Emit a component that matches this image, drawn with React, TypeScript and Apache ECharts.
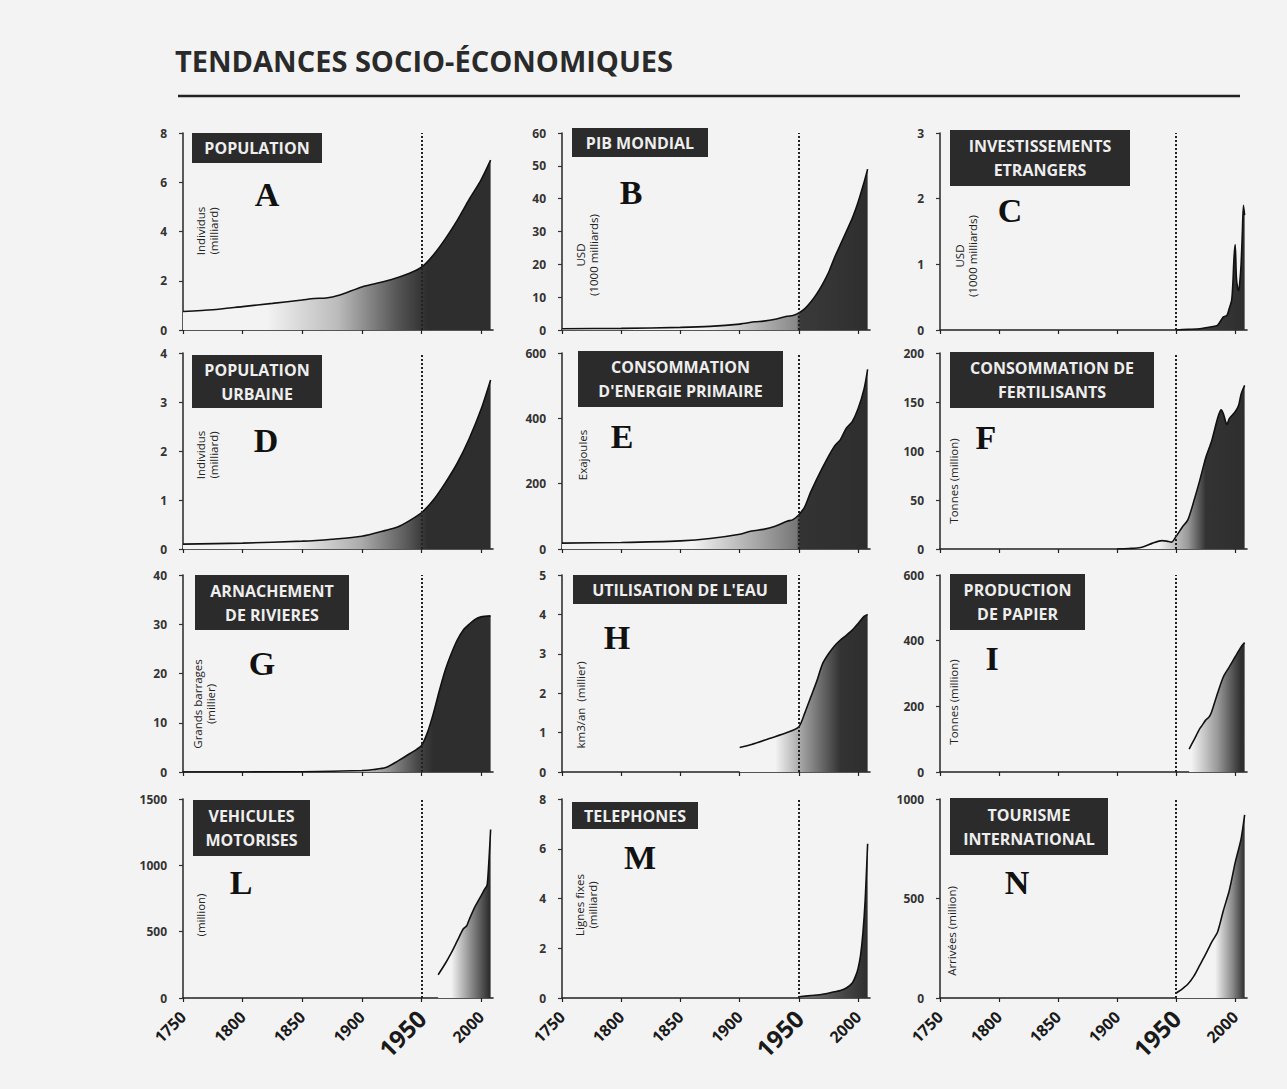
import React, { useEffect, useRef } from "react";
import * as echarts from "echarts";

// ---- Data (year, value) ----
const populationA: [number, number][] = [
  [1750, 0.75], [1775, 0.82], [1800, 0.95], [1825, 1.08], [1850, 1.22], [1860, 1.28], [1870, 1.3],
  [1880, 1.4], [1900, 1.75], [1910, 1.87], [1925, 2.05], [1940, 2.3], [1950, 2.55], [1960, 3.05],
  [1970, 3.7], [1980, 4.45], [1990, 5.3], [2000, 6.1], [2008, 6.9],
];
const pibB: [number, number][] = [
  [1750, 0.4], [1800, 0.5], [1850, 0.8], [1875, 1.1], [1900, 1.8], [1913, 2.5], [1920, 2.7],
  [1930, 3.3], [1940, 4.2], [1945, 4.4], [1950, 5.2], [1955, 6.5], [1960, 8.5], [1965, 11],
  [1970, 14], [1975, 17.5], [1980, 22], [1985, 26], [1990, 30], [1995, 34], [2000, 39],
  [2005, 45], [2008, 49],
];
const investC: [number, number][] = [
  [1950, 0], [1960, 0.01], [1970, 0.02], [1980, 0.05], [1985, 0.07], [1990, 0.2], [1993, 0.22],
  [1995, 0.33], [1997, 0.45], [1998, 0.7], [1999, 1.1], [2000, 1.3], [2001, 0.8], [2002, 0.65],
  [2003, 0.6], [2004, 0.75], [2005, 1.0], [2006, 1.45], [2007, 1.9], [2008, 1.75],
];
const urbainD: [number, number][] = [
  [1750, 0.1], [1800, 0.12], [1850, 0.16], [1875, 0.2], [1900, 0.26], [1920, 0.38], [1930, 0.45],
  [1940, 0.58], [1950, 0.74], [1960, 1.0], [1970, 1.35], [1980, 1.75], [1990, 2.25], [2000, 2.85],
  [2008, 3.45],
];
const energieE: [number, number][] = [
  [1750, 18], [1800, 20], [1850, 25], [1875, 32], [1900, 45], [1910, 55], [1920, 60], [1930, 70],
  [1940, 85], [1945, 90], [1950, 105], [1955, 130], [1960, 175], [1970, 250], [1980, 315],
  [1985, 335], [1990, 370], [1995, 390], [2000, 430], [2005, 490], [2008, 550],
];
const fertilF: [number, number][] = [
  [1900, 0], [1910, 0.5], [1920, 1.5], [1930, 6], [1938, 8.5], [1942, 8], [1946, 7], [1950, 13],
  [1955, 22], [1960, 30], [1965, 49], [1970, 70], [1975, 93], [1980, 110], [1985, 133],
  [1988, 142], [1990, 138], [1993, 127], [1995, 133], [2000, 140], [2003, 147], [2005, 158],
  [2008, 167],
];
const barragesG: [number, number][] = [
  [1750, 0], [1850, 0.05], [1900, 0.3], [1910, 0.5], [1920, 0.9], [1930, 2.2], [1940, 3.7],
  [1950, 5.4], [1955, 8], [1960, 11.9], [1965, 16.5], [1970, 20.7], [1975, 24], [1980, 26.8],
  [1985, 28.8], [1990, 30], [1995, 31], [2000, 31.5], [2008, 31.7],
];
const eauH: [number, number][] = [
  [1900, 0.62], [1910, 0.7], [1925, 0.85], [1940, 1.0], [1950, 1.15], [1955, 1.5], [1960, 1.9],
  [1965, 2.3], [1970, 2.75], [1975, 3.0], [1980, 3.2], [1985, 3.35], [1990, 3.47], [1995, 3.6],
  [2000, 3.77], [2005, 3.95], [2008, 4.0],
];
const papierI: [number, number][] = [
  [1961, 70], [1965, 97], [1970, 132], [1972, 142], [1975, 158], [1978, 168], [1980, 183],
  [1985, 239], [1990, 290], [1995, 320], [2000, 351], [2005, 381], [2008, 394],
];
const vehiculesL: [number, number][] = [
  [1964, 175], [1970, 260], [1975, 340], [1980, 430], [1985, 520], [1988, 545], [1990, 590],
  [1995, 690], [2000, 770], [2003, 820], [2005, 850], [2006, 950], [2007, 1100], [2008, 1270],
];
const telephonesM: [number, number][] = [
  [1950, 0.05], [1960, 0.1], [1970, 0.15], [1980, 0.25], [1985, 0.3], [1990, 0.4], [1995, 0.6],
  [1998, 0.9], [2000, 1.2], [2002, 1.7], [2004, 2.6], [2006, 4.0], [2008, 6.2],
];
const tourismeN: [number, number][] = [
  [1950, 25], [1955, 45], [1960, 70], [1965, 110], [1970, 165], [1975, 220], [1980, 280],
  [1985, 330], [1990, 440], [1995, 540], [2000, 680], [2005, 800], [2008, 920],
];

const xTicks = [1750, 1800, 1850, 1900, 1950, 2000];

// ---- Layout / styling ----
const colLeft = [183, 562, 940];
const colWidth = [310, 308, 307];
const rowTop = [133, 353, 575, 799];
const rowHeight = [197, 196, 197, 199];

const DARK = "#2e2e2e";
type Panel = {
  data: [number, number][];
  row: number;
  col: number;
  yMax: number;
  yStep: number;
  title: string;
  box: [number, number, number, number];
  letter: string;
  letterPos: [number, number];
  unit: string;
  unitPos: [number, number];
  grad: [number, string][];
};

const panels: Panel[] = [
  { data: populationA, row: 0, col: 0, yMax: 8, yStep: 2, title: "POPULATION", box: [192, 133, 130, 30],
    letter: "A", letterPos: [267, 194], unit: "Individus\n(milliard)", unitPos: [207, 231],
    grad: [[1820, "#f3f3f3"], [1880, "#bbbbbb"], [1930, "#555555"], [1955, DARK]] },
  { data: pibB, row: 0, col: 1, yMax: 60, yStep: 10, title: "PIB MONDIAL", box: [572, 128, 136, 29],
    letter: "B", letterPos: [631, 192], unit: "USD\n(1000 milliards)", unitPos: [587, 255],
    grad: [[1870, "#f3f3f3"], [1948, "#888888"], [1951, "#3a3a3a"], [2008, DARK]] },
  { data: investC, row: 0, col: 2, yMax: 3, yStep: 1, title: "INVESTISSEMENTS\nETRANGERS", box: [950, 130, 180, 56],
    letter: "C", letterPos: [1010, 210], unit: "USD\n(1000 milliards)", unitPos: [966, 256],
    grad: [[1950, "#444444"], [2008, DARK]] },
  { data: urbainD, row: 1, col: 0, yMax: 4, yStep: 1, title: "POPULATION\nURBAINE", box: [192, 355, 130, 53],
    letter: "D", letterPos: [266, 440], unit: "Individus\n(milliard)", unitPos: [207, 455],
    grad: [[1840, "#f3f3f3"], [1900, "#aaaaaa"], [1940, "#555555"], [1955, DARK]] },
  { data: energieE, row: 1, col: 1, yMax: 600, yStep: 200, title: "CONSOMMATION\nD'ENERGIE PRIMAIRE", box: [578, 351, 205, 56],
    letter: "E", letterPos: [622, 436], unit: "Exajoules", unitPos: [582, 455],
    grad: [[1860, "#f3f3f3"], [1948, "#777777"], [1951, "#333333"], [2008, DARK]] },
  { data: fertilF, row: 1, col: 2, yMax: 200, yStep: 50, title: "CONSOMMATION DE\nFERTILISANTS", box: [950, 352, 204, 56],
    letter: "F", letterPos: [986, 437], unit: "Tonnes (million)", unitPos: [953, 481],
    grad: [[1935, "#f3f3f3"], [1960, "#999999"], [1975, "#333333"], [2008, DARK]] },
  { data: barragesG, row: 2, col: 0, yMax: 40, yStep: 10, title: "ARNACHEMENT\nDE RIVIERES", box: [195, 575, 154, 55],
    letter: "G", letterPos: [262, 663], unit: "Grands barrages\n(millier)", unitPos: [204, 704],
    grad: [[1880, "#f3f3f3"], [1920, "#999999"], [1948, "#444444"], [1960, DARK]] },
  { data: eauH, row: 2, col: 1, yMax: 5, yStep: 1, title: "UTILISATION DE L'EAU", box: [573, 575, 214, 29],
    letter: "H", letterPos: [617, 637], unit: "km3/an  (millier)", unitPos: [580, 705],
    grad: [[1930, "#f3f3f3"], [1955, "#999999"], [1985, "#333333"], [2008, DARK]] },
  { data: papierI, row: 2, col: 2, yMax: 600, yStep: 200, title: "PRODUCTION\nDE PAPIER", box: [950, 574, 135, 56],
    letter: "I", letterPos: [992, 658], unit: "Tonnes (million)", unitPos: [953, 702],
    grad: [[1963, "#f3f3f3"], [1985, "#999999"], [2005, DARK]] },
  { data: vehiculesL, row: 3, col: 0, yMax: 1500, yStep: 500, title: "VEHICULES\nMOTORISES", box: [193, 800, 117, 56],
    letter: "L", letterPos: [241, 882], unit: "(million)", unitPos: [200, 915],
    grad: [[1975, "#f3f3f3"], [1992, "#888888"], [2007, DARK]] },
  { data: telephonesM, row: 3, col: 1, yMax: 8, yStep: 2, title: "TELEPHONES", box: [572, 802, 126, 27],
    letter: "M", letterPos: [640, 857], unit: "Lignes fixes\n(milliard)", unitPos: [586, 905],
    grad: [[1950, "#777777"], [1990, "#444444"], [2008, DARK]] },
  { data: tourismeN, row: 3, col: 2, yMax: 1000, yStep: 500, title: "TOURISME\nINTERNATIONAL", box: [950, 798, 158, 57],
    letter: "N", letterPos: [1017, 882], unit: "Arrivées (million)", unitPos: [951, 931],
    grad: [[1983, "#f3f3f3"], [1998, "#888888"], [2008, DARK]] },
];

function gradientFor(p: Panel) {
  const x0 = p.data[0][0];
  const x1 = p.data[p.data.length - 1][0];
  const stops = p.grad.map(([yr, c]) => ({
    offset: Math.max(0, Math.min(1, (yr - x0) / (x1 - x0))),
    color: c,
  }));
  return new echarts.graphic.LinearGradient(0, 0, 1, 0, stops);
}

const FONT = "'Open Sans', 'DejaVu Sans', sans-serif";

export default function App() {
  const ref = useRef<HTMLDivElement>(null);
  useEffect(() => {
    if (!ref.current) return;
    const chart = echarts.init(ref.current, undefined, { renderer: "svg" });

    const grids = panels.map((p) => ({
      left: colLeft[p.col],
      top: rowTop[p.row],
      width: colWidth[p.col],
      height: rowHeight[p.row],
      containLabel: false,
    }));

    const xAxes = panels.map((p, i) => ({
      type: "value",
      gridIndex: i,
      min: 1750,
      max: 2010,
      axisLine: { show: true, lineStyle: { color: "#222", width: 1.6 } },
      axisTick: { show: true, customValues: xTicks, length: 4, lineStyle: { color: "#222", width: 1.2 } },
      splitLine: { show: false },
      axisLabel: {
        show: p.row === 3,
        customValues: xTicks,
        rotate: 45,
        margin: 16,
        color: "#1a1a1a",
        fontFamily: FONT,
        formatter: (v: number) => (v === 1950 ? `{big|${v}}` : `{n|${v}}`),
        rich: {
          n: { fontSize: 16, fontWeight: "bold", fontFamily: FONT, color: "#1a1a1a" },
          big: { fontSize: 24, fontWeight: "bold", fontFamily: FONT, color: "#1a1a1a" },
        },
      },
    }));

    const yAxes = panels.map((p, i) => ({
      type: "value",
      gridIndex: i,
      min: 0,
      max: p.yMax,
      interval: p.yStep,
      axisLine: { show: true, lineStyle: { color: "#333", width: 1.6 } },
      axisTick: { show: true, length: 4, lineStyle: { color: "#333", width: 1.2 } },
      splitLine: { show: false },
      axisLabel: {
        margin: 16,
        fontSize: 12,
        fontWeight: "bold",
        color: "#333",
        fontFamily: FONT,
        formatter: (v: number) => String(v),
      },
    }));

    const series = panels.map((p, i) => ({
      type: "line",
      xAxisIndex: i,
      yAxisIndex: i,
      data: p.data,
      showSymbol: false,
      smooth: 0.25,
      lineStyle: { color: "#111", width: 1.6 },
      areaStyle: { color: gradientFor(p), opacity: 1 },
      z: 2,
      markLine: {
        silent: true,
        symbol: ["none", "none"],
        label: { show: false },
        lineStyle: { type: "dotted", color: "#222", width: 2 },
        data: [{ xAxis: 1950 }],
        z: 3,
      },
    }));

    const graphics: any[] = [
      {
        type: "text",
        left: 175,
        top: 46,
        style: {
          text: "TENDANCES SOCIO-ÉCONOMIQUES",
          font: `bold 29px ${FONT}`,
          fill: "#2a2a2a",
        },
      },
      {
        type: "line",
        shape: { x1: 178, y1: 96, x2: 1240, y2: 96 },
        style: { stroke: "#222", lineWidth: 2.5 },
      },
    ];

    panels.forEach((p) => {
      const [bx, by, bw, bh] = p.box;
      graphics.push({
        type: "rect",
        shape: { x: bx, y: by, width: bw, height: bh },
        style: { fill: "#2b2b2b" },
        z: 10,
      });
      graphics.push({
        type: "text",
        x: bx + bw / 2,
        y: by + bh / 2,
        z: 11,
        style: {
          text: p.title,
          align: "center",
          verticalAlign: "middle",
          font: `bold 16px ${FONT}`,
          lineHeight: 24,
          fill: "#eeeeee",
        },
      });
      graphics.push({
        type: "text",
        x: p.letterPos[0],
        y: p.letterPos[1],
        z: 11,
        style: {
          text: p.letter,
          align: "center",
          verticalAlign: "middle",
          font: `bold 34px 'Liberation Serif', 'DejaVu Serif', serif`,
          fill: "#111",
        },
      });
      graphics.push({
        type: "text",
        x: p.unitPos[0],
        y: p.unitPos[1],
        rotation: Math.PI / 2,
        z: 11,
        style: {
          text: p.unit,
          align: "center",
          verticalAlign: "middle",
          font: `11.5px ${FONT}`,
          lineHeight: 13,
          fill: "#222",
        },
      });
    });

    chart.setOption({
      animation: false,
      backgroundColor: "#f3f3f3",
      grid: grids,
      xAxis: xAxes,
      yAxis: yAxes,
      series,
      graphic: graphics,
    });

    return () => chart.dispose();
  }, []);

  return (
    <div
      ref={ref}
      style={{ position: "absolute", left: 0, top: 0, width: 1287, height: 1089 }}
    />
  );
}
